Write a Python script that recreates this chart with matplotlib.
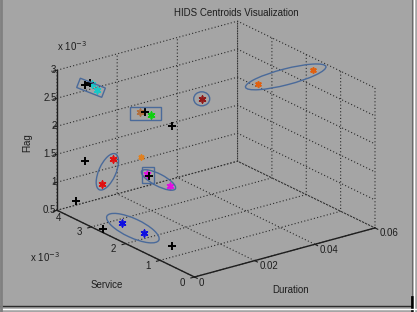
import matplotlib
matplotlib.use('Agg')
import matplotlib.pyplot as plt
import numpy as np
from matplotlib.lines import Line2D
from matplotlib.patches import Ellipse, Rectangle, Polygon
from mpl_toolkits.mplot3d import proj3d

plt.rcParams['font.family'] = ['Liberation Sans', 'DejaVu Sans']
plt.rcParams['font.size'] = 7

BG = '#a5a5a5'
INK = '#1e1e1e'

# centroid values: duration, service (x1e-3), flag (x1e-3)
black_dur = [0.002, 0.002, 0.010, 0.015, 0.0, 0.010, 0.0, 0.0, 0.005]
black_srv = [3.36, 3.22, 2.32, 1.97, 3.19, 2.20, 3.45, 2.67, 1.10]
black_flg = [2.89, 2.98, 2.61, 2.39, 1.62, 1.50, 0.83, 0.56, 0.65]

cyan_dur = [0.002, 0.002]
cyan_srv = [3.16, 3.01]
cyan_flg = [2.97, 2.91]

brown_dur = [0.010]
brown_srv = [2.46]
brown_flg = [2.56]

green_dur = [0.010]
green_srv = [2.15]
green_flg = [2.61]

darkred_dur = [0.020]
darkred_srv = [1.54]
darkred_flg = [2.93]

orange_dur = [0.058, 0.040]
orange_srv = [1.62, 1.65]
orange_flg = [2.87, 2.87]

red_dur = [0.005, 0.003]
red_srv = [2.81, 2.96]
red_flg = [1.69, 1.23]

lone_dur = [0.010]
lone_srv = [2.44]
lone_flg = [1.77]

magenta_dur = [0.010, 0.020]
magenta_srv = [2.26, 2.46]
magenta_flg = [1.52, 1.10]

blue_dur = [0.005, 0.005]
blue_srv = [2.55, 1.91]
blue_flg = [0.63, 0.64]

dur_ticks = [0, 0.02, 0.04, 0.06]
dur_labels = ['0', '0.02', '0.04', '0.06']
srv_ticks = [0, 1, 2, 3, 4]
srv_labels = ['0', '1', '2', '3', '4']
flg_ticks = [0.5, 1, 1.5, 2, 2.5, 3]
flg_labels = ['0.5', '1', '1.5', '2', '2.5', '3']

W, H = 417, 312
fig = plt.figure(figsize=(W / 100, H / 100), dpi=100, facecolor=BG)
ax = fig.add_axes([0.05, 0.05, 0.9, 0.9 * W / H], projection='3d', proj_type='ortho')
ax.set_facecolor(BG)
ax.patch.set_alpha(0)
ax.view_init(elev=21.3, azim=-126.8)
ax.set_box_aspect((225, 229, 150))

ax.set_xlim(0, 0.06)
ax.set_ylim(0, 4)
ax.set_zlim(0.5, 3)
ax.set_xticks(dur_ticks)
ax.set_yticks(srv_ticks)
ax.set_zticks(flg_ticks)
ax.set_xticklabels([])
ax.set_yticklabels([])
ax.set_zticklabels([])

for axis in (ax.xaxis, ax.yaxis, ax.zaxis):
    axis.set_pane_color((1, 1, 1, 0))
    axis.pane.set_edgecolor((0, 0, 0, 0))
    axis.pane.set_visible(False)
    axis.line.set_color(INK)
    axis.line.set_linewidth(1.0)
    axis._axinfo['tick']['inward_factor'] = 0.25
    axis._axinfo['tick']['outward_factor'] = 0.0
    axis._axinfo['tick']['color'] = INK
    axis._axinfo['grid'].update(color='#2c2c2c', linewidth=0.8,
                                linestyle=(0, (1, 2)))
ax.tick_params(colors=INK)


def star(d, s, f, color, size=22):
    ax.scatter(d, s, f, marker=(6, 2, 0), s=size, c=color, linewidths=1.2,
               depthshade=False)


ax.scatter(black_dur, black_srv, black_flg, marker='+', s=30, c='black',
           linewidths=1.4, depthshade=False)
star(cyan_dur, cyan_srv, cyan_flg, '#18c8c8')
star(brown_dur, brown_srv, brown_flg, '#b07040')
star(green_dur, green_srv, green_flg, '#10d010')
star(darkred_dur, darkred_srv, darkred_flg, '#901818')
star(orange_dur, orange_srv, orange_flg, '#e06010', 14)
star(red_dur, red_srv, red_flg, '#e01010')
star(lone_dur, lone_srv, lone_flg, '#e08020', 12)
star(magenta_dur, magenta_srv, magenta_flg, '#e010e0')
star(blue_dur, blue_srv, blue_flg, '#1010e0')

# fit the projected box onto the reference frame
fig.canvas.draw()


def to_px(d, s, f):
    x2, y2, _ = proj3d.proj_transform(np.atleast_1d(d), np.atleast_1d(s),
                                      np.atleast_1d(f), ax.get_proj())
    return ax.transData.transform(np.column_stack([x2, y2]))


corners = to_px([0, 0.06, 0], [0, 0, 4], [0.5, 0.5, 3])
pos = ax.get_position()
x0, y0, w = pos.x0 * W, pos.y0 * H, pos.width * W
u = (corners - [x0, y0]) / w
target_left, target_right = 57, 375
target_bottom = H - 277
w_new = (target_right - target_left) / (u[1, 0] - u[2, 0])
x0_new = target_left - u[2, 0] * w_new
y0_new = target_bottom - u[0, 1] * w_new
ax.set_position([x0_new / W, y0_new / H, w_new / W, w_new / H])
fig.canvas.draw()


def label_at(px, dx, dy, text, **kw):
    fig.text((px[0] + dx) / W, (px[1] - dy) / H, text, color=INK, fontsize=7,
             va='center', **kw)


# tick labels, placed like MATLAB does (dx right, dy down in pixels)
for t, lab in zip(dur_ticks, dur_labels):
    label_at(to_px(t, 0, 0.5)[0], 4.5, 5.5, lab, ha='left')
for t, lab in zip(srv_ticks, srv_labels):
    dx, dy = (2, 8) if t == srv_ticks[-1] else (-12, 5.5)
    label_at(to_px(0, t, 0.5)[0], dx, dy, lab, ha='center')
for t, lab in zip(flg_ticks, flg_labels):
    label_at(to_px(0, 4, t)[0], -0.5, 0, lab, ha='right')

# hand-drawn cluster outlines (display pixels)
edge = '#4a6a9a'


def outline_ellipse(d, s, f, pad, width):
    p = to_px(d, s, f)
    c = p.mean(axis=0)
    v = p[-1] - p[0]
    ang = np.degrees(np.arctan2(v[1], v[0]))
    length = np.hypot(*v) + pad
    fig.patches.append(Ellipse(c, length, width, angle=ang, fill=False,
                               ec=edge, lw=1.0, transform=None))


def outline_box(d, s, f, pad_x, pad_y):
    p = to_px(d, s, f)
    lo = p.min(axis=0) - [pad_x, pad_y]
    hi = p.max(axis=0) + [pad_x, pad_y]
    fig.patches.append(Rectangle(lo, *(hi - lo), fill=False, ec=edge, lw=1.0,
                                 transform=None))


def outline_slab(d, s, f, pad, width):
    p = to_px(d, s, f)
    v = p[-1] - p[0]
    t = v / np.hypot(*v)
    nrm = np.array([-t[1], t[0]])
    a = p[0] - t * pad
    b = p[-1] + t * pad
    pts = [a + nrm * width / 2, b + nrm * width / 2,
           b - nrm * width / 2, a - nrm * width / 2]
    fig.patches.append(Polygon(pts, closed=True, fill=False, ec=edge, lw=1.0,
                               transform=None))


outline_slab([black_dur[0]] + cyan_dur[1:], [black_srv[0]] + cyan_srv[1:],
             [black_flg[0]] + cyan_flg[1:], 7, 10)
outline_box(brown_dur + [black_dur[2]] + green_dur,
            brown_srv + [black_srv[2]] + green_srv,
            brown_flg + [black_flg[2]] + green_flg, 10, 5)
outline_ellipse(darkred_dur * 2, darkred_srv * 2, darkred_flg * 2, 16, 14)
outline_ellipse(orange_dur[::-1], orange_srv[::-1], orange_flg[::-1], 26, 16)
outline_ellipse(red_dur, red_srv, red_flg, 12, 17)
outline_box(magenta_dur[:1] + [black_dur[5]], magenta_srv[:1] + [black_srv[5]],
            magenta_flg[:1] + [black_flg[5]], 5, 7)
outline_ellipse(magenta_dur, magenta_srv, magenta_flg, 12, 12)
outline_ellipse(blue_dur, blue_srv, blue_flg, 33, 19)

fig.text(236 / W, 1 - 13 / H, 'HIDS Centroids Visualization', ha='center',
         va='center', color=INK, fontsize=7)
fig.text(57 / W, 1 - 46 / H, r'x 10$^{-3}$', color=INK, fontsize=7,
         va='center')
fig.text(30 / W, 1 - 257 / H, r'x 10$^{-3}$', color=INK, fontsize=7,
         va='center')
fig.text(27 / W, 1 - 143 / H, 'Flag', rotation=90, ha='center', va='center',
         color=INK, fontsize=7)
fig.text(107 / W, 1 - 285 / H, 'Service', ha='center', va='center',
         color=INK, fontsize=7)
fig.text(291 / W, 1 - 290 / H, 'Duration', ha='center', va='center',
         color=INK, fontsize=7)

# window frame
fig.lines.append(Line2D([0, 411 / W], [1 - 306 / H] * 2, transform=fig.transFigure,
                        color='#2a2a2a', lw=1.0))
fig.lines.append(Line2D([411.5 / W] * 2, [1 - 306 / H, 1], transform=fig.transFigure,
                        color='#6a6a6a', lw=0.8))
fig.lines.append(Line2D([412 / W] * 2, [1 - 310 / H, 1 - 297 / H],
                        transform=fig.transFigure, color='black', lw=2.0))
fig.lines.append(Line2D([0, 1], [1 - 308.5 / H] * 2, transform=fig.transFigure,
                        color='white', lw=1.0))
fig.lines.append(Line2D([414 / W] * 2, [0, 1], transform=fig.transFigure,
                        color='white', lw=1.0))
fig.lines.append(Line2D([1 / W] * 2, [0, 1], transform=fig.transFigure,
                        color='#808080', lw=2.0))

fig.savefig('out.png', dpi=100, facecolor=BG)
